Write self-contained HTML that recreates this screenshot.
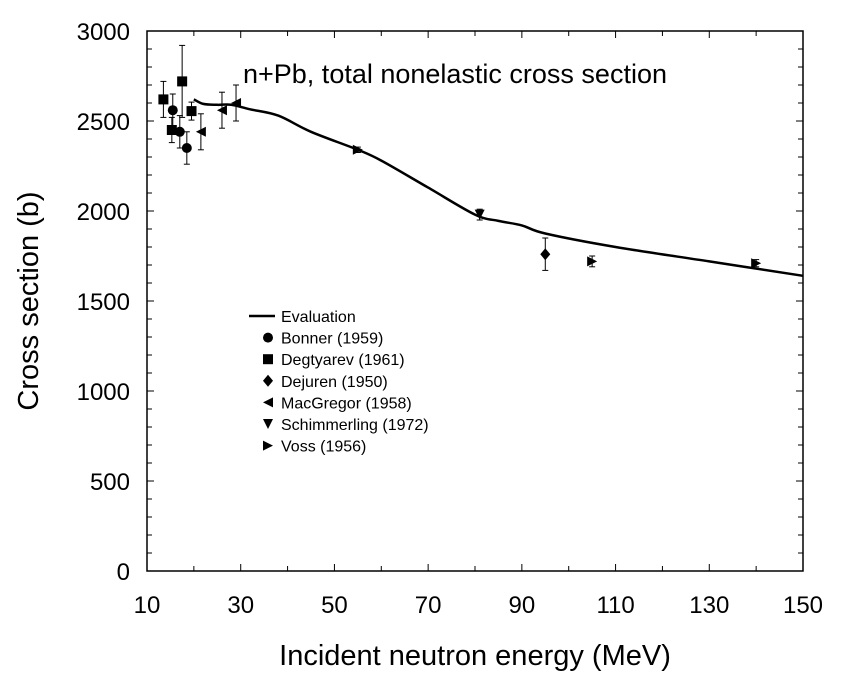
<!DOCTYPE html>
<html><head><meta charset="utf-8"><style>
body{margin:0;background:#fff}
svg text{font-family:"Liberation Sans",sans-serif;fill:#000}
</style></head><body>
<svg id="c" width="844" height="680"></svg>
<script>
const xTicks=[10,30,50,70,90,110,130,150];
const yTicks=[0,500,1000,1500,2000,2500,3000];
const curveE=[20,22,25,28,32,38,45,55,60,70,80,85,90,95,110,130,150];
const curveS=[2620,2595,2590,2590,2565,2530,2440,2340,2280,2130,1980,1945,1920,1875,1800,1720,1640];
const bonnerE=[15.5,17,18.5];const bonnerS=[2560,2440,2350];const bonnerErr=[90,90,90];
const degE=[13.5,15.3,17.5,19.5];const degS=[2620,2450,2720,2555];const degErr=[100,70,200,50];
const dejE=[95];const dejS=[1760];const dejErr=[90];
const macE=[21.5,26,29];const macS=[2440,2560,2600];const macErr=[100,100,100];
const schE=[81];const schS=[1980];const schErr=[30];
const vossE=[55,105,140];const vossS=[2340,1720,1710];const vossErr=[15,30,20];
const NS='http://www.w3.org/2000/svg',svg=document.getElementById('c');
const X0=147,X1=803,Y0=571,Y1=31;
const xs=v=>X0+(v-10)/140*(X1-X0), ys=v=>Y0-v/3000*(Y0-Y1);
function el(t,a,p){const e=document.createElementNS(NS,t);for(const k in a)e.setAttribute(k,a[k]);(p||svg).appendChild(e);return e;}
const frame=el('rect',{x:X0,y:Y1,width:X1-X0,height:Y0-Y1,fill:'none',stroke:'#000','stroke-width':1.5});


for(let v=10;v<=150;v+=10){const x=xs(v),l=v%20==10?7:5;
el('line',{x1:x,y1:Y0,x2:x,y2:Y0-l,stroke:'#000'});el('line',{x1:x,y1:Y1,x2:x,y2:Y1+l,stroke:'#000'});}
for(let v=0;v<=3000;v+=100){const y=ys(v),l=v%500==0?7:5;
el('line',{x1:X0,y1:y,x2:X0+l,y2:y,stroke:'#000'});el('line',{x1:X1,y1:y,x2:X1-l,y2:y,stroke:'#000'});}
xTicks.forEach(v=>{const t=el('text',{x:xs(v),y:613,'text-anchor':'middle','font-size':24});t.textContent=v;

});
yTicks.forEach(v=>{const t=el('text',{x:130,y:ys(v)+9,'text-anchor':'end','font-size':24});t.textContent=v;

});
const xt=el('text',{x:475,y:665,'text-anchor':'middle','font-size':29});xt.textContent='Incident neutron energy (MeV)';


const yt=el('text',{x:0,y:0,'text-anchor':'middle','font-size':29,transform:'translate(38,301) rotate(-90)'});yt.textContent='Cross section (b)';


const tt=el('text',{x:243,y:83,'font-size':27});tt.textContent='n+Pb, total nonelastic cross section';


const P=curveE.map((e,i)=>[xs(e),ys(curveS[i])]);
let d='M'+P[0][0]+','+P[0][1];
for(let i=0;i<P.length-1;i++){const p0=P[Math.max(0,i-1)],p1=P[i],p2=P[i+1],p3=P[Math.min(P.length-1,i+2)];
d+=`C${p1[0]+(p2[0]-p0[0])/6},${p1[1]+(p2[1]-p0[1])/6} ${p2[0]-(p3[0]-p1[0])/6},${p2[1]-(p3[1]-p1[1])/6} ${p2[0]},${p2[1]}`;}
const cv=el('path',{d:d,fill:'none',stroke:'#000','stroke-width':2.5});


function marker(shape,x,y,p){const r=5;
if(shape=='c')return el('circle',{cx:x,cy:y,r:r},p);
if(shape=='s')return el('rect',{x:x-r,y:y-r,width:2*r,height:2*r},p);
if(shape=='d')return el('polygon',{points:`${x},${y-r-1} ${x+r},${y} ${x},${y+r+1} ${x-r},${y}`},p);
if(shape=='l')return el('polygon',{points:`${x-r},${y} ${x+r},${y-r} ${x+r},${y+r}`},p);
if(shape=='v')return el('polygon',{points:`${x-r},${y-r} ${x+r},${y-r} ${x},${y+r}`},p);
return el('polygon',{points:`${x+r},${y} ${x-r},${y-r} ${x-r},${y+r}`},p);}
function series(E,S,Er,shape,name){const g=el('g',{});


E.forEach((e,i)=>{const x=xs(e),a=ys(S[i]-Er[i]),b=ys(S[i]+Er[i]);
el('line',{x1:x,y1:a,x2:x,y2:b,stroke:'#000'},g);el('line',{x1:x-3,y1:a,x2:x+3,y2:a,stroke:'#000'},g);el('line',{x1:x-3,y1:b,x2:x+3,y2:b,stroke:'#000'},g);
marker(shape,x,ys(S[i]),g);});}
series(degE,degS,degErr,'s','degtyarev-series');
series(bonnerE,bonnerS,bonnerErr,'c','bonner-series');
series(macE,macS,macErr,'l','macgregor-series');
series(dejE,dejS,dejErr,'d','dejuren-series');
series(schE,schS,schErr,'v','schimmerling-series');
series(vossE,vossS,vossErr,'r','voss-series');
const lg=el('g',{});
const labs=[['line','Evaluation'],['c','Bonner (1959)'],['s','Degtyarev (1961)'],['d','Dejuren (1950)'],['l','MacGregor (1958)'],['v','Schimmerling (1972)'],['r','Voss (1956)']];
labs.forEach((L,i)=>{const y=316+i*21.6;
if(L[0]=='line')el('line',{x1:249,y1:y,x2:275,y2:y,stroke:'#000','stroke-width':2.5},lg);else marker(L[0],268,y,lg);
const t=el('text',{x:281,y:y+6,'font-size':16},lg);t.textContent=L[1];

});
</script></body></html>
